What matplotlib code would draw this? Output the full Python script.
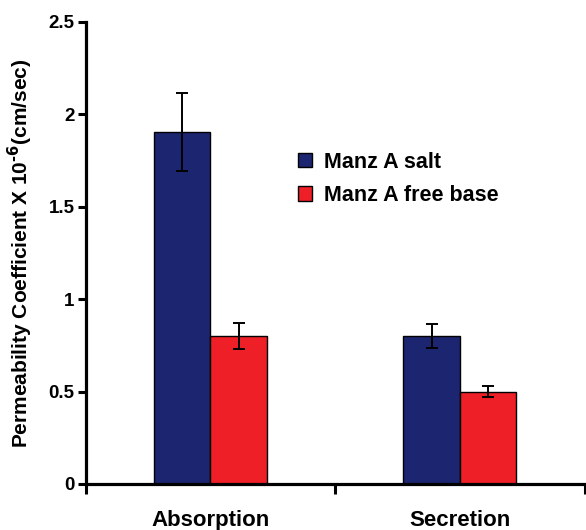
import numpy as np
import matplotlib
matplotlib.use("Agg")
import matplotlib.pyplot as plt

plt.rcParams['font.family'] = ['Liberation Sans', 'DejaVu Sans']
plt.rcParams['font.weight'] = 'bold'
plt.rcParams['mathtext.default'] = 'bf'

# data
categories = ["Absorption", "Secretion"]
salt_vals = [1.905, 0.80]
salt_err = [0.21, 0.064]
base_vals = [0.80, 0.50]
base_err = [0.069, 0.03]
series_names = ["Manz A salt", "Manz A free base"]

fig = plt.figure(figsize=(5.86, 5.30), dpi=100)
ax = fig.add_axes([0.1463, 0.0868, 0.8515, 0.8717])

x = np.arange(len(categories))
w = 0.2265
ekw = dict(elinewidth=1.4, capthick=1.4)
ax.bar(x - w/2, salt_vals, w, yerr=salt_err, color="#1c2570", edgecolor="black",
       linewidth=1.0, capsize=4, error_kw=ekw, label=series_names[0])
ax.bar(x + w/2, base_vals, w, yerr=base_err, color="#ee1f27", edgecolor="black",
       linewidth=1.0, capsize=4, error_kw=ekw, label=series_names[1])

ax.set_xlim(-0.5, 1.5)
ax.set_ylim(0, 2.5)
ax.set_yticks([0, 0.5, 1, 1.5, 2, 2.5])
ax.set_yticklabels(["0", "0.5", "1", "1.5", "2", "2.5"], fontsize=13.5, fontweight='bold')
ax.set_xticks(x)
ax.set_xticklabels(categories, fontsize=16, fontweight='bold')
ax.tick_params(axis='x', which='major', length=0, pad=19)
ax.set_xticks([-0.5, 0.5, 1.5], minor=True)
ax.tick_params(axis='x', which='minor', length=7, width=2.2, direction='out')
ax.tick_params(axis='y', length=6, width=2.2, direction='out', pad=2)

for s in ["top", "right"]:
    ax.spines[s].set_visible(False)
for s in ["left", "bottom"]:
    ax.spines[s].set_linewidth(2.3)

ax.set_ylabel("Permeability Coefficient X 10$^{\\text{-}6}$(cm/sec)", fontsize=15,
              fontweight='bold', labelpad=10)

fig.legend(loc="center left", bbox_to_anchor=(298/586, 1 - 179/530), frameon=False,
           borderpad=0, borderaxespad=0,
           prop=dict(size=15.5, weight='bold'), handlelength=0.65, handleheight=0.65,
           handletextpad=0.55, labelspacing=0.58)

fig.savefig("out.png", dpi=100)
